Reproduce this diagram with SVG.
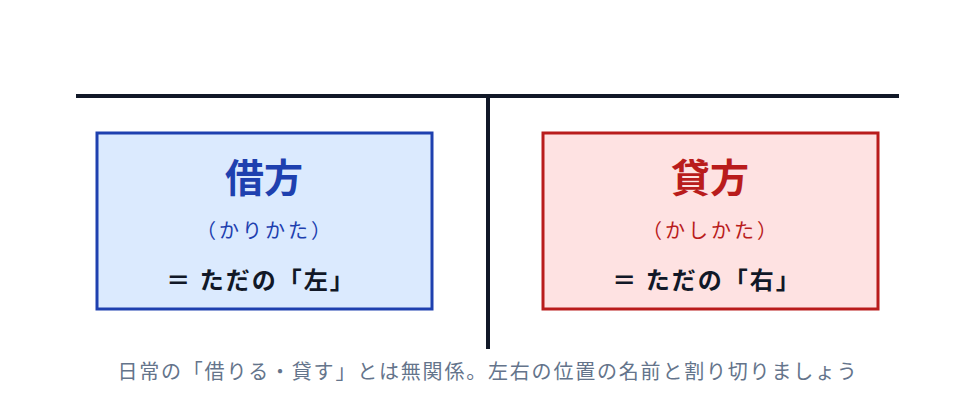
<svg xmlns="http://www.w3.org/2000/svg" width="975" height="414" viewBox="0 0 975 414">
<style>
text{font-family:"Noto Sans CJK JP","Noto Sans",sans-serif;text-anchor:middle}
.t{font-size:39px;font-weight:700}
.s{font-size:20px;letter-spacing:3px}
.e{font-size:24px;font-weight:700;fill:#111827;letter-spacing:2px}
.c{font-size:20px;fill:#64748b;letter-spacing:1.8px}
.ln{stroke:#111827;stroke-width:4;fill:none}
</style>
<rect width="975" height="414" fill="#ffffff"/>
<g id="connectors">
<line class="ln" x1="76" y1="96" x2="899" y2="96"/>
<line class="ln" x1="488" y1="96" x2="488" y2="349"/>
</g>
<g id="debit">
<rect x="97" y="133" width="335" height="176" fill="#dbeafe" stroke="#1e40af" stroke-width="3"/>
<text class="t" x="264" y="192" fill="#1e40af">借方</text>
<text class="s" x="265" y="238" fill="#1e40af">（かりかた）</text>
<text class="e" x="261" y="289">＝ ただの「左」</text>
</g>
<g id="credit">
<rect x="543" y="133" width="335" height="176" fill="#fee2e2" stroke="#b91c1c" stroke-width="3"/>
<text class="t" x="710" y="192" fill="#b91c1c">貸方</text>
<text class="s" x="711" y="238" fill="#b91c1c">（かしかた）</text>
<text class="e" x="707" y="289">＝ ただの「右」</text>
</g>
<g id="caption">
<text class="c" x="488" y="379">日常の「借りる・貸す」とは無関係。左右の位置の名前と割り切りましょう</text>
</g>
</svg>
